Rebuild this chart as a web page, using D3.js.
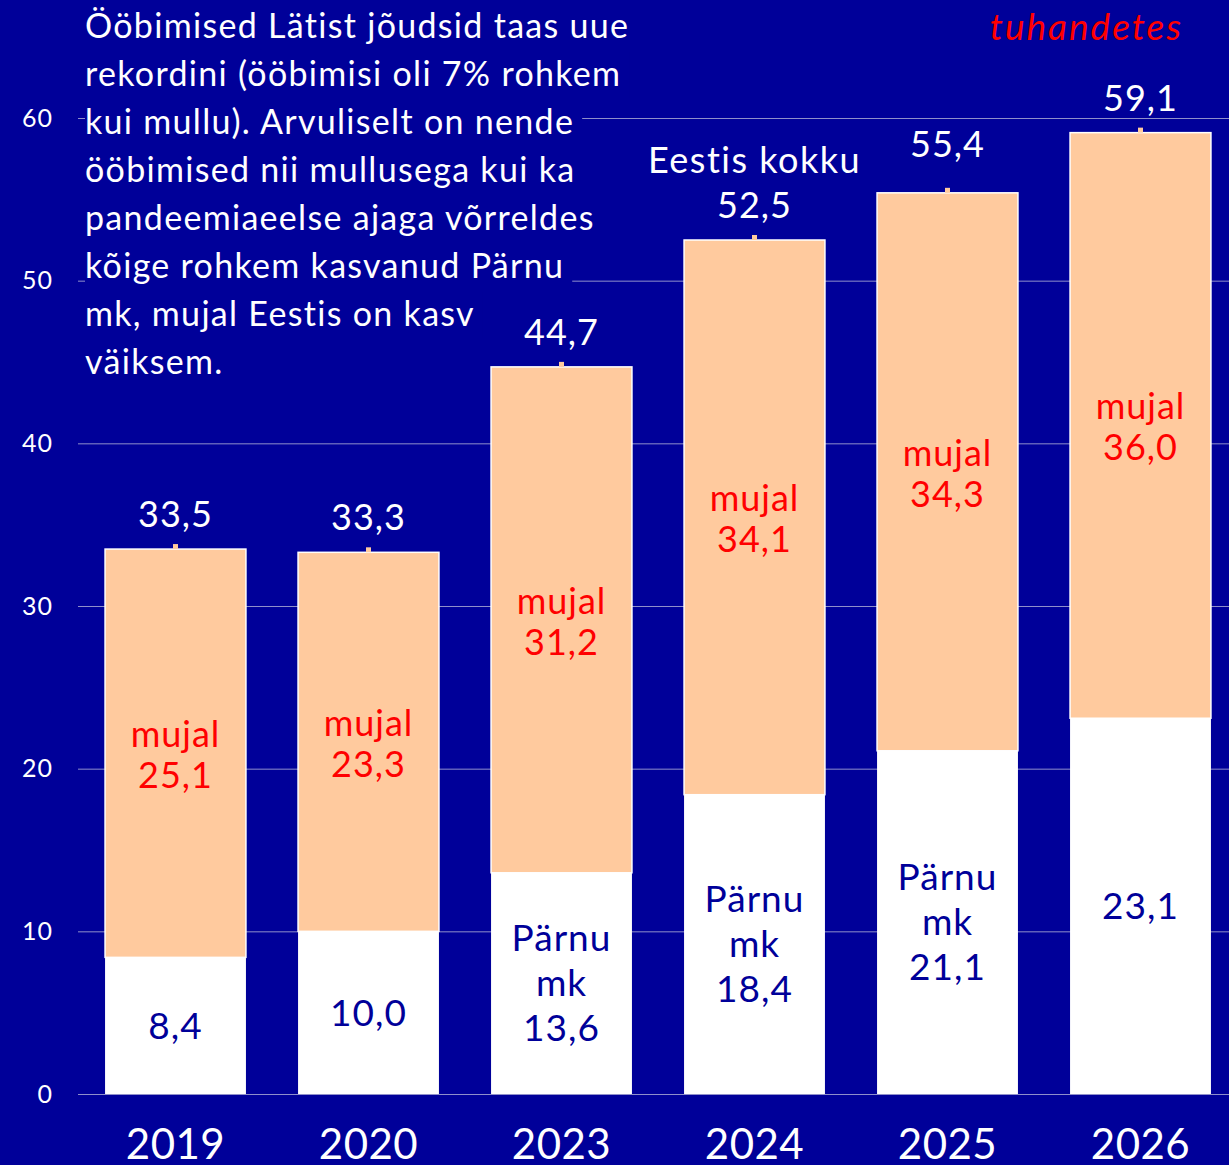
<!DOCTYPE html>
<html lang="et">
<head>
<meta charset="utf-8">
<title>Ööbimised Lätist</title>
<script src="https://d3js.org/d3.v7.min.js"></script>
<style>
  body { margin: 0; background: #000099; }
  svg { display: block; font-family: Lato, "Open Sans", sans-serif; }
</style>
</head>
<body>
<svg width="1229" height="1165"></svg>
<script>
// data (thousands)
var years = ['2019', '2020', '2023', '2024', '2025', '2026'];
var parnu = [8.4, 10.0, 13.6, 18.4, 21.1, 23.1];
var mujal = [25.1, 23.3, 31.2, 34.1, 34.3, 36.0];
var total = [33.5, 33.3, 44.7, 52.5, 55.4, 59.1];
var yTicks = [0, 10, 20, 30, 40, 50, 60];
var parnuNamed = ['2023', '2024', '2025'];   // these get "Pärnu mk" label
var introLines = [
  'Ööbimised Lätist jõudsid taas uue',
  'rekordini (ööbimisi oli 7% rohkem',
  'kui mullu). Arvuliselt on nende',
  'ööbimised nii mullusega kui ka',
  'pandeemiaeelse ajaga võrreldes',
  'kõige rohkem kasvanud Pärnu',
  'mk, mujal Eestis on kasv',
  'väiksem.'
];

var BG = '#000099', PEACH = '#FFCA9E', RED = '#FF0000', GRID = '#8F8FCB';
var fmt = function(v) { return d3.format('.1f')(v).replace('.', ','); };

var svg = d3.select('svg');

var y = d3.scaleLinear().domain([0, 60]).range([1094, 118]);
var x = d3.scaleBand().domain(years).range([79, 1237]).paddingInner(0.27).paddingOuter(0.135);

// grid
svg.append('g').selectAll('line').data(yTicks).enter().append('line')
  .attr('x1', 78).attr('x2', 1229)
  .attr('y1', function(d) { return y(d) + 0.5; })
  .attr('y2', function(d) { return y(d) + 0.5; })
  .attr('stroke', GRID).attr('stroke-width', 1);

// y axis labels
var yAxis = svg.append('g')
  .attr('transform', 'translate(53,0)')
  .call(d3.axisLeft(y).tickValues(yTicks).tickSize(0).tickPadding(0));
yAxis.select('.domain').remove();
yAxis.selectAll('text')
  .attr('fill', '#fff').attr('font-size', 25).attr('letter-spacing', 1)
  .attr('font-family', 'Lato, sans-serif');

// bars
var bars = svg.append('g').selectAll('g').data(years).enter().append('g');

bars.append('rect')
  .attr('x', function(d) { return x(d); })
  .attr('width', x.bandwidth())
  .attr('y', function(d, i) { return y(total[i]); })
  .attr('height', function(d, i) { return y(parnu[i]) - y(total[i]); })
  .attr('fill', PEACH).attr('stroke', '#fff').attr('stroke-width', 1.5);

bars.append('rect')
  .attr('x', function(d) { return x(d); })
  .attr('width', x.bandwidth())
  .attr('y', function(d, i) { return y(parnu[i]); })
  .attr('height', function(d, i) { return y(0) - y(parnu[i]); })
  .attr('fill', '#fff');

// small marker on top of each bar
bars.append('rect')
  .attr('x', function(d) { return x(d) + x.bandwidth() / 2 - 2.5; })
  .attr('y', function(d, i) { return y(total[i]) - 5; })
  .attr('width', 5).attr('height', 5)
  .attr('fill', PEACH);

var cx = function(d) { return x(d) + x.bandwidth() / 2; };

// total labels (2025 sits a bit higher)
bars.append('text')
  .attr('x', cx)
  .attr('y', function(d, i) { return y(total[i]) - (d === '2025' ? 36 : 22); })
  .attr('text-anchor', 'middle').attr('fill', '#fff').attr('font-size', 36)
  .attr('letter-spacing', 1)
  .text(function(d, i) { return fmt(total[i]); });

svg.append('text')
  .attr('x', cx('2024')).attr('y', y(52.5) - 67)
  .attr('text-anchor', 'middle').attr('fill', '#fff').attr('font-size', 36)
  .attr('letter-spacing', 1.5)
  .text('Eestis kokku');

// mujal labels
bars.append('text')
  .attr('text-anchor', 'middle').attr('fill', RED).attr('font-size', 36)
  .attr('letter-spacing', 1)
  .attr('x', cx)
  .attr('y', function(d, i) { return (y(total[i]) + y(parnu[i])) / 2 - 6; })
  .text('mujal');
bars.append('text')
  .attr('text-anchor', 'middle').attr('fill', RED).attr('font-size', 36)
  .attr('letter-spacing', 1)
  .attr('x', cx)
  .attr('y', function(d, i) { return (y(total[i]) + y(parnu[i])) / 2 + 35; })
  .text(function(d, i) { return fmt(mujal[i]); });

// Pärnu labels
bars.each(function(d, i) {
  var g = d3.select(this);
  var mid = (y(parnu[i]) + y(0)) / 2;
  var lines = parnuNamed.indexOf(d) >= 0 ? ['Pärnu', 'mk', fmt(parnu[i])] : [fmt(parnu[i])];
  var start = mid + 13 - (lines.length - 1) * 45 / 2;
  lines.forEach(function(t, k) {
    g.append('text')
      .attr('x', cx(d)).attr('y', start + k * 45)
      .attr('text-anchor', 'middle').attr('fill', BG).attr('font-size', 37)
      .attr('letter-spacing', 1)
      .text(t);
  });
});

// x labels
svg.append('g').selectAll('text').data(years).enter().append('text')
  .attr('x', cx).attr('y', 1159)
  .attr('text-anchor', 'middle').attr('fill', '#fff').attr('font-size', 42)
  .attr('letter-spacing', 0.5)
  .text(function(d) { return d; });

// intro text, each line on its own background strip
var intro = svg.append('g');
introLines.forEach(function(t, k) {
  var bg = intro.append('rect').attr('fill', BG);
  var tx = intro.append('text')
    .attr('x', 85).attr('y', 38 + k * 48)
    .attr('fill', '#fff').attr('font-size', 34)
    .attr('letter-spacing', 1.3)
    .text(t);
  var w = tx.node().getBBox().width;
  bg.attr('x', 85).attr('y', 38 + k * 48 - 34).attr('width', w + 8).attr('height', 46);
});

svg.append('text')
  .attr('x', 1183).attr('y', 40)
  .attr('text-anchor', 'end').attr('fill', RED)
  .attr('font-size', 37).attr('font-style', 'italic')
  .attr('letter-spacing', 2)
  .text('tuhandetes');
</script>
</body>
</html>
